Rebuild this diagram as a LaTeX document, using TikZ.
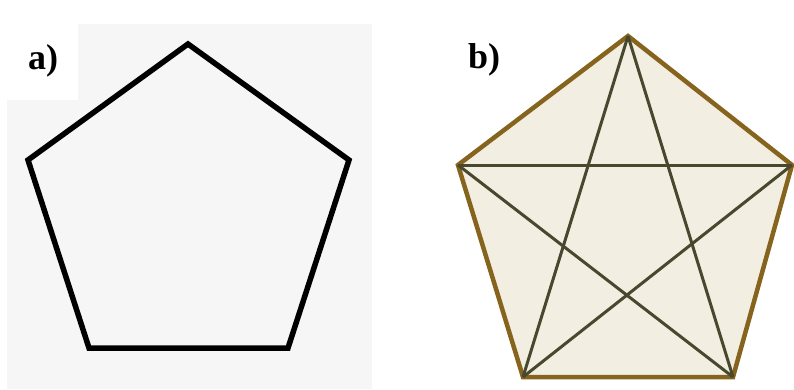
\documentclass[tikz,border=0pt]{standalone}
\usepackage{fontspec}
\setmainfont{Liberation Serif}
\usepackage{tikz}
\usetikzlibrary{positioning}

\definecolor{panelgray}{HTML}{F6F6F6}
\definecolor{rimbrown}{HTML}{86641E}
\definecolor{chordolive}{HTML}{48482F}
\definecolor{fillbeige}{HTML}{F2EEE2}

\begin{document}
\begin{tikzpicture}[
    x=1pt, y=-1pt,
    edge/.style={draw=black, line width=5.5pt, line join=miter},
    rim/.style={draw=rimbrown, line width=4.5pt, line join=miter, fill=fillbeige},
    chord/.style={draw=chordolive, line width=3pt},
    tag/.style={font=\bfseries\fontsize{36}{36}\selectfont, inner sep=0pt}
]
\useasboundingbox (0,0) rectangle (794,389);

% panel a
\fill[panelgray] (7,24) rectangle (372,389);
\fill[white] (7,24) rectangle (78,100);
\node[tag] (la) at (43,61) {a)};

\coordinate (a1) at (188,44);
\coordinate (a2) at (349,160);
\coordinate (a3) at (288,348);
\coordinate (a4) at (89,348);
\coordinate (a5) at (28,160);
\draw[edge] (a1) -- (a2) -- (a3) -- (a4) -- (a5) -- cycle;

% panel b
\node[tag] (lb) at (484,60) {b)};

\coordinate (b1) at (628,36);
\coordinate (b2) at (792,165);
\coordinate (b3) at (733,377);
\coordinate (b4) at (523,377);
\coordinate (b5) at (458,165);
\draw[rim] (b1) -- (b2) -- (b3) -- (b4) -- (b5) -- cycle;
\draw[chord] (b1) -- (b3);
\draw[chord] (b1) -- (b4);
\draw[chord] (b2) -- (b4);
\draw[chord] (b2) -- (b5);
\draw[chord] (b3) -- (b5);
\end{tikzpicture}
\end{document}
